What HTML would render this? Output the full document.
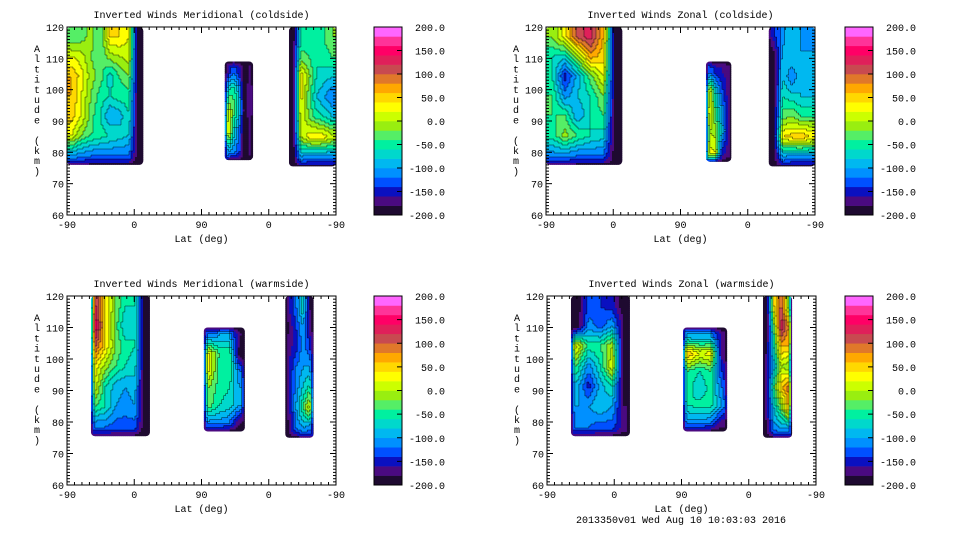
<!DOCTYPE html>
<html><head><meta charset="utf-8">
<style>
html,body{margin:0;padding:0;background:#fff;}
svg{display:block;font-family:"Liberation Mono",monospace;}
text{font-size:10px;fill:#000;}
</style></head>
<body>
<svg id="chart" width="960" height="540" viewBox="0 0 960 540"></svg>
<script>
// ---- data ----
const bandColors = ["#1e0a30","#4a0a80","#0a10c0","#0050ff","#0090ff","#00b8f0","#00d8cc","#00f0a0","#55ee66","#99ee10","#ccff00","#ffff00","#ffd800","#ffa800","#e0782a","#c84a50","#e0205a","#ff0066","#ff3399","#ff66ff"];
const cbarTicks = [-200,-150,-100,-50,0,50,100,150,200];
const xTickLabels = ["-90","0","90","0","-90"];
const yTicks = [60,70,80,90,100,110,120];
const panelTitles = ["Inverted Winds Meridional (coldside)","Inverted Winds Zonal (coldside)","Inverted Winds Meridional (warmside)","Inverted Winds Zonal (warmside)"];
// region extents: [trackStart, trackEnd, altBottom, altTop]
const extTL = [[0,102,76,120],[211,249,77.5,109],[297,360,75.5,120]];
const extTR = [[0,102,76,120],[214,248,77,109],[298,360,75.5,120]];
const extBL = [[32,111,75.5,120],[183,238,77,110],[292,330,75,120]];
const extBR = [[32,111,75.5,120],[182,241,77,110],[289,328,75,120]];
// value grids (rows top->bottom, cols left->right)
const gTL_A = [[-40,-30,-10,-40,40,40,20,-200],[20,10,-20,-40,-10,0,10,-200],[60,30,-10,-30,-70,-40,-20,-200],[60,20,-20,-50,-60,-50,-50,-200],[50,20,-30,-60,-100,-90,-60,-200],[20,-20,-40,-50,-60,-70,-80,-200],[-100,-110,-120,-120,-120,-120,-120,-200]];
const gTL_B = [[-160,-130,-150,-200,-170],[-60,-40,-90,-200,-160],[20,-30,-70,-200,-160],[60,-60,-120,-200,-170],[-90,-110,-130,-200,-170]];
const gTL_C = [[-200,-60,-50,-50,-40,-20],[-200,-30,-40,-60,-50,-40],[-200,40,-10,-60,-70,-80],[-200,30,-30,-80,-100,-120],[-200,20,-20,-50,-60,-80],[-200,0,30,40,30,10],[-200,-100,-110,-110,-110,-110]];
const gTR_A = [[-20,30,110,130,60,-200],[-60,-70,-10,70,50,-200],[-60,-150,-90,-30,20,-200],[-40,-110,-80,-60,-20,-200],[-40,-40,-100,-60,-40,-200],[-50,-10,-40,-60,-70,-200],[-110,-110,-120,-120,-120,-200]];
const gTR_B = [[-120,-150,-160,-170],[30,-70,-130,-170],[40,-40,-100,-160],[0,-10,-80,-160],[30,20,-150,-170]];
const gTR_C = [[-150,-110,-80,-100,-120],[-200,-90,-80,-100,-90],[-200,-80,-120,-80,-90],[-200,-60,-70,-80,-80],[-200,-30,-20,-40,-40],[-200,40,50,60,40],[-200,-100,-110,-110,-110]];
const gBL_A = [[120,40,-20,-60,-60,-200],[150,40,-30,-80,-60,-200],[100,40,-20,-50,-60,-200],[30,-10,-40,-60,-70,-200],[10,-60,-90,-100,-90,-200],[-40,-60,-100,-110,-100,-200],[-120,-120,-130,-130,-130,-200]];
const gBL_B = [[-110,-100,-100,-180],[20,-40,-40,-200],[20,-50,-40,-120],[-20,-50,-60,-100],[-30,-60,-70,-100],[-110,-110,-120,-180]];
const gBL_C = [[-160,-120,-60,-180],[-180,-140,-100,-170],[-170,-150,-110,-140],[-160,-120,-100,-100],[-160,-110,-80,-50],[-170,-100,-40,20],[-180,-120,-100,-110]];
const gBR_A = [[-200,-130,-140,-150,-200],[-200,-110,-130,-100,-180],[30,-50,-40,0,-200],[-40,-110,-60,20,-200],[-90,-150,-90,-60,-200],[-100,-100,-80,-100,-180],[-120,-120,-130,-130,-170]];
const gBR_B = [[-100,-100,-100,-170],[60,20,30,-170],[-40,-60,-40,-140],[-50,-80,-50,-120],[-60,-50,-50,-100],[-110,-110,-120,-170]];
const gBR_C = [[-200,40,110,-20],[-200,-30,140,80],[-180,-60,60,60],[-170,-90,0,-20],[-170,-40,50,90],[-170,-80,-20,60],[-180,-110,-100,-100]];

const NS="http://www.w3.org/2000/svg";
const svg=document.getElementById('chart');
function mk(tag,attrs,parent){const e=document.createElementNS(NS,tag);for(const k in attrs)e.setAttribute(k,attrs[k]);(parent||svg).appendChild(e);return e;}
function txt(s,x,y,anchor,parent){const t=mk('text',{x:x,y:y,'text-anchor':anchor||'start'},parent);t.textContent=s;return t;}
function bandOf(v){let i=Math.floor((v+200)/20);if(i<0)i=0;if(i>19)i=19;return i;}
function sample(g,u,v){
  const R=g.length,C=g[0].length;
  let fx=u*C-0.5, fy=v*R-0.5;
  fx=Math.max(0,Math.min(C-1,fx)); fy=Math.max(0,Math.min(R-1,fy));
  const x0=Math.floor(fx),y0=Math.floor(fy),x1=Math.min(C-1,x0+1),y1=Math.min(R-1,y0+1);
  const ax=fx-x0,ay=fy-y0;
  return (g[y0][x0]*(1-ax)+g[y0][x1]*ax)*(1-ay)+(g[y1][x0]*(1-ax)+g[y1][x1]*ax)*ay;
}
const panels=[
 {x0:67,x1:336,y0:27,y1:215,cb:374,name:'meridional-coldside',ext:extTL,grids:[gTL_A,gTL_B,gTL_C]},
 {x0:546,x1:815,y0:27,y1:215,cb:845,name:'zonal-coldside',ext:extTR,grids:[gTR_A,gTR_B,gTR_C]},
 {x0:67,x1:336,y0:296,y1:485,cb:374,name:'meridional-warmside',ext:extBL,grids:[gBL_A,gBL_B,gBL_C]},
 {x0:547,x1:816,y0:296,y1:485,cb:845,name:'zonal-warmside',ext:extBR,grids:[gBR_A,gBR_B,gBR_C]}
];
panels.forEach((p,pi)=>{
  const g=mk('g',{});
  
  
  const X=t=>p.x0+t*(p.x1-p.x0)/360;
  const Y=a=>p.y1-(a-60)*(p.y1-p.y0)/60;
  const tt=txt(panelTitles[pi],(p.x0+p.x1)/2,p.y0-9,'middle',g);
  
  
  p.ext.forEach((e,ri)=>{
    const grid=p.grids[ri];
    const rg=mk('g',{},g);
    
    
    const cid='clip'+pi+'_'+ri;
    const cp=mk('clipPath',{id:cid},rg);
    const rx0=X(e[0]),rx1=X(e[1]),ry0=Y(e[3]),ry1=Y(e[2]);
    const topOpen=e[3]>=120;
    const leftOpen=e[0]<=0, rightOpen=e[1]>=360;
    mk('rect',{x:rx0,y:ry0,width:rx1-rx0,height:ry1-ry0,rx:4,ry:4},cp);
    const cg=mk('g',{'clip-path':'url(#'+cid+')'},rg);
    const step=2;
    const nx=Math.ceil((rx1-rx0)/step), ny=Math.ceil((ry1-ry0)/step);
    const B=[];
    for(let j=0;j<ny;j++){B.push([]);
      for(let i=0;i<nx;i++){
        const xx=rx0+i*step+1, yy=ry0+j*step+1;
        let v=sample(grid,(xx-rx0)/(rx1-rx0),(yy-ry0)/(ry1-ry0));
        let f=Math.min(1,(ry1-yy)/9);
        if(!topOpen)f=Math.min(f,(yy-ry0)/7);
        if(!leftOpen)f=Math.min(f,(xx-rx0)/4);
        if(!rightOpen)f=Math.min(f,(rx1-xx)/4);
        f=Math.max(0,f);
        v=-200+(v+200)*Math.pow(f,0.6);
        B[j].push(bandOf(v));
      }}
    for(let j=0;j<ny;j++)for(let i=0;i<nx;i++){
      const c=mk('rect',{x:rx0+i*step,y:ry0+j*step,width:step+0.4,height:step+0.4,fill:bandColors[B[j][i]]},cg);
      
      
    }
    let dpath='';
    for(let j=0;j<ny;j++)for(let i=0;i<nx;i++){
      const x=rx0+i*step,y=ry0+j*step;
      if(i<nx-1&&B[j][i]!==B[j][i+1]&&Math.min(B[j][i],B[j][i+1])>1)dpath+='M'+(x+step)+' '+y+'v'+step;
      if(j<ny-1&&B[j][i]!==B[j+1][i]&&Math.min(B[j][i],B[j+1][i])>1)dpath+='M'+x+' '+(y+step)+'h'+step;
    }
    const cl=mk('path',{d:dpath,stroke:'#000','stroke-width':0.5,fill:'none','stroke-opacity':0.8},cg);
    
    
  });
  const fr=mk('rect',{x:p.x0,y:p.y0,width:p.x1-p.x0,height:p.y1-p.y0,fill:'none',stroke:'#000','stroke-width':1},g);
  
  
  for(let a=60;a<=120;a++){
    const L=(a%10===0)?6:3;
    mk('line',{x1:p.x0,x2:p.x0+L,y1:Y(a),y2:Y(a),stroke:'#000','stroke-width':1},g);
    mk('line',{x1:p.x1,x2:p.x1-L,y1:Y(a),y2:Y(a),stroke:'#000','stroke-width':1},g);
  }
  yTicks.forEach(a=>{const t=txt(String(a),p.x0-3,Y(a)+4,'end',g);
    
    });
  for(let t=0;t<=360;t+=10){
    const L=(t%90===0)?6:3;
    mk('line',{x1:X(t),x2:X(t),y1:p.y1,y2:p.y1-L,stroke:'#000','stroke-width':1},g);
    mk('line',{x1:X(t),x2:X(t),y1:p.y0,y2:p.y0+L,stroke:'#000','stroke-width':1},g);
  }
  xTickLabels.forEach((s,i)=>{const t=txt(s,X(i*90),p.y1+13,'middle',g);
    
    });
  const xl=txt('Lat (deg)',(p.x0+p.x1)/2,p.y1+27,'middle',g);
  
  
  const yl=mk('text',{x:37,y:0,'text-anchor':'middle'},g);
  
  
  const label='Altitude (km)';
  for(let i=0;i<label.length;i++){
    const ts=mk('tspan',{x:(pi%2?p.x0-30:37),y:p.y0+25+i*10.2},yl);ts.textContent=label[i];
  }
  const cb=mk('g',{},g);
  
  
  const bh=(p.y1-p.y0)/bandColors.length;
  bandColors.forEach((c,i)=>{
    const r=mk('rect',{x:p.cb,y:p.y1-(i+1)*bh,width:28,height:bh+0.3,fill:c},cb);
    
    
  });
  mk('rect',{x:p.cb,y:p.y0,width:28,height:p.y1-p.y0,fill:'none',stroke:'#000'},cb);
  cbarTicks.forEach(v=>{
    const yy=p.y1-(v+200)/400*(p.y1-p.y0);
    mk('line',{x1:p.cb+28,x2:p.cb+23,y1:yy,y2:yy,stroke:'#000'},cb);
    const t=txt(v.toFixed(1),p.cb+71,yy+4,'end',cb);
    
    
  });
});
const ft=txt('2013350v01 Wed Aug 10 10:03:03 2016',681,523,'middle');


</script>
</body></html>
